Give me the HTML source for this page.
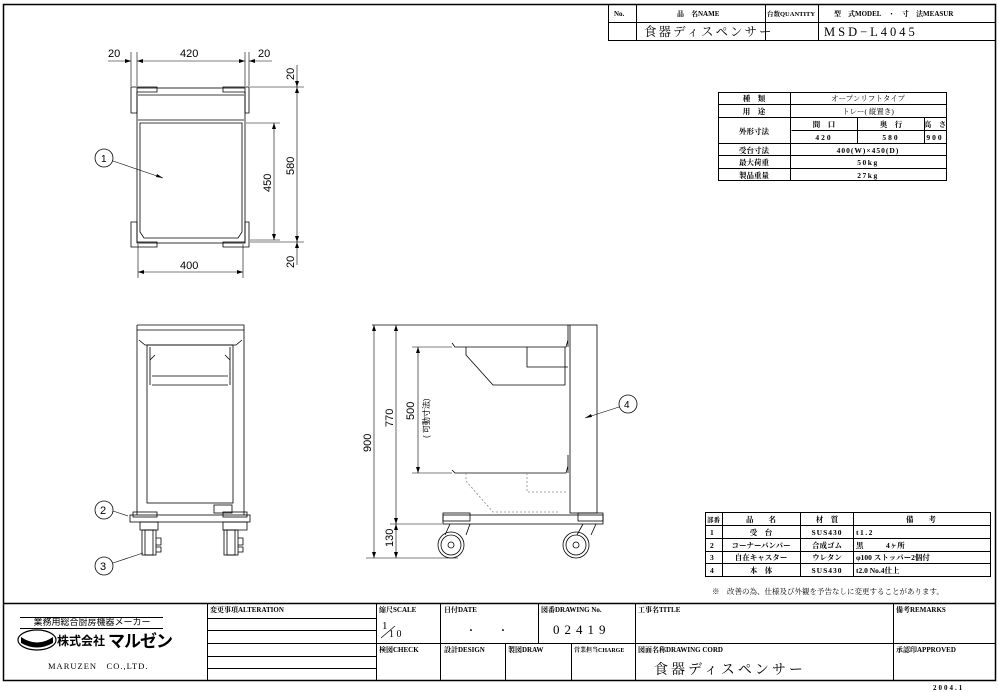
<!DOCTYPE html>
<html><head><meta charset="utf-8"><style>
html,body{margin:0;padding:0;background:#fff}
svg{display:block}
text{font-family:"Liberation Serif","Noto Serif CJK SC","Noto Sans CJK JP",serif;fill:#000}
.s text, text.s{font-family:"Liberation Sans","Noto Sans CJK JP",sans-serif}
</style></head><body>
<svg width="999" height="692" viewBox="0 0 999 692" xmlns="http://www.w3.org/2000/svg">
<g fill="none" stroke="#000" stroke-width="1">
<rect x="3.5" y="4.5" width="992" height="676" stroke-width="1.5"/>
<path d="M608.5 4.5V40.5H996 M608.5 22.5H996 M636.5 4.5V40.5 M765.5 4.5V40.5 M818.5 4.5V40.5"/>
<path d="M3.5 603.5H996" stroke-width="1.5"/>
<path d="M207.5 603.5V681 M376.5 603.5V681 M440.5 603.5V681 M538.5 603.5V643.5 M505.5 643.5V681 M571.5 643.5V681 M635.5 603.5V681 M893.5 603.5V681 M376.5 643.5H996"/>
<path d="M207.5 618.5H376.5 M207.5 630.5H376.5 M207.5 643.5H376.5 M207.5 656.5H376.5 M207.5 668.5H376.5"/>
<path d="M20 617.5H163 M20 628.5H163"/>
<rect x="718.5" y="92.5" width="228" height="88"/>
<path d="M718.5 104.5H946.5 M718.5 117.5H946.5 M791.5 130.5H946.5 M718.5 143.5H946.5 M718.5 155.5H946.5 M718.5 168.5H946.5 M790.5 92.5V180.5 M857.5 117.5V143.5 M924.5 117.5V143.5"/>
<rect x="705.5" y="512.5" width="285" height="64"/>
<path d="M705.5 525.5H990.5 M705.5 538.5H990.5 M705.5 551.5H990.5 M705.5 563.5H990.5 M722.5 512.5V576.5 M800.5 512.5V576.5 M853.5 512.5V576.5"/>
</g>

<!-- top view -->
<g fill="none" stroke="#000" stroke-width="0.8">
<path d="M131 87H157V92H137V113H131Z"/>
<path d="M249 87H223V92H245V113H249Z"/>
<path d="M131 247H157V242H137V222H131Z"/>
<path d="M249 247H223V242H245V222H249Z"/>
<rect x="137" y="88" width="108" height="155"/>
<path d="M138 95H244 M138 120H244"/>
<path d="M140 123H242V232L238 238H144L140 232Z"/>
<path d="M131 86V52 M137 86V52 M245 86V52 M249 86V52 M108 61H131 M137 61H245 M249 61H272" stroke-width="0.6"/>
<path d="M138 244V278 M243 244V278 M138 272H243" stroke-width="0.6"/>
<path d="M246 123H280 M250 240H280 M274 123V240 M250 87H304 M250 242H304 M297 65V87 M297 87V242 M297 242V265" stroke-width="0.6"/>
<circle cx="104" cy="158" r="9"/>
<path d="M113 161L163 178" stroke-width="0.6"/>
</g>
<g fill="#000">
<path d="M131 61l-6-2v4z M137 61l6-2v4z M245 61l-6-2v4z M249 61l6-2v4z M138 272l6-2v4z M243 272l-6-2v4z M274 123l-2 6h4z M274 240l-2-6h4z M297 87l-2-6h4z M297 87l-2 6h4z M297 242l-2-6h4z M297 242l-2 6h4z M163 178l-6-4-1 3z"/>
</g>
<g class="s" font-size="11">
<text x="108" y="57">20</text><text x="180" y="57">420</text><text x="258" y="57">20</text>
<text x="180" y="269">400</text>
<text x="101" y="162" font-size="10">1</text>
<text transform="translate(271 192) rotate(-90)">450</text>
<text transform="translate(294 175) rotate(-90)">580</text>
<text transform="translate(294 80) rotate(-90)">20</text>
<text transform="translate(294 268) rotate(-90)">20</text>
</g>

<!-- front view -->
<g fill="none" stroke="#000" stroke-width="0.8">
<path d="M137 325H244V515 M137 325V515"/>
<path d="M137 330H244 M139 340L145 345H236L242 340"/>
<rect x="147" y="345" width="86" height="158"/>
<path d="M150 347V385 M230 347V385 M152 376H228 M152 385H228 M150 360L155 355 M230 360L225 355"/>
<rect x="214" y="505" width="18" height="8"/>
<rect x="130" y="515" width="120" height="7"/>
<rect x="133" y="512" width="24" height="5"/>
<rect x="223" y="512" width="24" height="5"/>
<path d="M140 522H158V530H140Z M223 522H247V530H223Z"/>
<rect x="142" y="530" width="14" height="25"/><rect x="145" y="530" width="8" height="25"/>
<rect x="224" y="530" width="14" height="25"/><rect x="227" y="530" width="8" height="25"/>
<path d="M156 538H161V545H156 M238 538H243V545H238 M156 547H161V552H156 M238 547H243V552H238"/>
<circle cx="104" cy="510" r="9"/><circle cx="104" cy="566" r="9"/>
<path d="M113 511L128 516 M113 563L143 553" stroke-width="0.6"/>
</g>
<g class="s" font-size="11"><text x="100" y="514">2</text><text x="100" y="570">3</text></g>

<!-- side view -->
<g fill="none" stroke="#000" stroke-width="0.8">
<rect x="570" y="325" width="27" height="188"/>
<path d="M372 325H570" />
<path d="M452 343L455 347H566L568 340 M455 347H566 M466 347V355L493 385H565V347 M527 347V367H568 M568 325V347"/>
<path d="M452 470L455 473H566L568 466 M568 455V473" />
<path d="M466 473V481L493 512H560 M527 473V492H568" stroke="#888" stroke-dasharray="2 2"/>
<rect x="443" y="515" width="160" height="9"/>
<rect x="443" y="513" width="27" height="8"/><rect x="578" y="513" width="25" height="8"/>
<path d="M450 524L445 535 M470 524L466 535 M583 524L577 535 M596 524L591 535"/>
<circle cx="451" cy="545" r="13"/><circle cx="451" cy="545" r="10"/><circle cx="451" cy="545" r="3"/>
<circle cx="576" cy="545" r="13"/><circle cx="576" cy="545" r="10"/><circle cx="576" cy="545" r="3"/>
<path d="M374 325V558 M396 325V558 M366 558H458 M390 524H442 M418 347V473 M412 347H452 M412 473H452" stroke-width="0.6"/>
<circle cx="628" cy="404" r="9"/>
<path d="M619 407L585 418" stroke-width="0.6"/>
</g>
<g fill="#000">
<path d="M374 325l-2 6h4z M374 558l-2-6h4z M396 325l-2 6h4z M396 524l-2-6h4z M396 524l-2 6h4z M396 558l-2-6h4z M418 347l-2 6h4z M418 473l-2-6h4z M585 418l6-4 1 3z"/>
</g>
<g class="s" font-size="11">
<text x="624" y="408" font-size="10">4</text>
<text transform="translate(371 452) rotate(-90)">900</text>
<text transform="translate(393 427) rotate(-90)">770</text>
<text transform="translate(393 547) rotate(-90)">130</text>
<text transform="translate(414 420) rotate(-90)">500</text>
<text transform="translate(429 438) rotate(-90)" font-size="8">( 可動寸法)</text>
</g>

<g font-size="7" font-weight="bold">
<text x="614" y="16">No.</text>
<text x="677" y="16">品　名NAME</text>
<text x="767" y="16" font-size="6.5">台数QUANTITY</text>
<text x="834" y="16">型　式MODEL　・　寸　法MEASUR</text>
</g>
<text x="644" y="36" font-size="12.5" letter-spacing="2">食器ディスペンサー</text>
<text x="824" y="36" font-size="12.5" letter-spacing="3">MSD−L4045</text>

<g font-size="7.5" font-weight="bold" text-anchor="middle">
<text x="754" y="101">種　類</text><text x="868" y="101" font-weight="normal">オープンリフトタイプ</text>
<text x="754" y="114">用　途</text><text x="868" y="114" font-weight="normal">トレー( 縦置き)</text>
<text x="754" y="134">外形寸法</text>
<text x="824" y="127">間　口</text><text x="891" y="127">奥　行</text><text x="935" y="127">高　さ</text>
<text x="824" y="140" letter-spacing="2">420</text><text x="891" y="140" letter-spacing="2">580</text><text x="935" y="140" letter-spacing="2">900</text>
<text x="754" y="153">受台寸法</text><text x="868" y="153" letter-spacing="1">400(W)×450(D)</text>
<text x="754" y="165">最大荷重</text><text x="868" y="165" letter-spacing="1.5">50kg</text>
<text x="754" y="178">製品重量</text><text x="868" y="178" letter-spacing="1.5">27kg</text>
</g>

<g font-size="7.5" font-weight="bold">
<text x="707" y="522" font-size="6.5">部番</text>
<text x="761" y="522" text-anchor="middle">品　　名</text>
<text x="827" y="522" text-anchor="middle">材　質</text>
<text x="921" y="522" text-anchor="middle">備　　考</text>
<text x="710" y="535">1</text><text x="761" y="535" text-anchor="middle">受　台</text><text x="827" y="535" text-anchor="middle" letter-spacing="1">SUS430</text><text x="856" y="535" letter-spacing="1.5">t1.2</text>
<text x="710" y="548">2</text><text x="761" y="548" text-anchor="middle">コーナーバンパー</text><text x="827" y="548" text-anchor="middle">合成ゴム</text><text x="856" y="548">黒　　　4ヶ所</text>
<text x="710" y="560">3</text><text x="761" y="560" text-anchor="middle">自在キャスター</text><text x="827" y="560" text-anchor="middle">ウレタン</text><text x="856" y="560">φ100 ストッパー2個付</text>
<text x="710" y="573">4</text><text x="761" y="573" text-anchor="middle">本　体</text><text x="827" y="573" text-anchor="middle" letter-spacing="1">SUS430</text><text x="856" y="573">t2.0 No.4仕上</text>
<text x="712" y="594" font-weight="normal">※　改善の為、仕様及び外観を予告なしに変更することがあります。</text>
</g>

<g font-size="7" font-weight="bold">
<text x="210" y="612">変更事項ALTERATION</text>
<text x="379" y="612">縮尺SCALE</text>
<text x="444" y="612">日付DATE</text>
<text x="541" y="612">図番DRAWING No.</text>
<text x="638" y="612">工事名TITLE</text>
<text x="896" y="612">備考REMARKS</text>
<text x="379" y="652">検図CHECK</text>
<text x="444" y="652">設計DESIGN</text>
<text x="508" y="652">製図DRAW</text>
<text x="574" y="652" font-size="6">営業担当CHARGE</text>
<text x="638" y="652">図面名称DRAWING CORD</text>
<text x="896" y="652">承認印APPROVED</text>
</g>
<text x="382" y="629" font-size="11">1</text>
<path d="M381 638L395 626" stroke="#000" stroke-width="0.7"/>
<text x="389" y="637" font-size="10">1 0</text>
<text x="466" y="634" font-size="10">・</text><text x="498" y="634" font-size="10">・</text>
<text x="553" y="634" font-size="13" letter-spacing="5">02419</text>
<text x="654" y="674" font-size="14" letter-spacing="3">食器ディスペンサー</text>
<text x="933" y="690" font-size="7" font-weight="bold" letter-spacing="2">2004.1</text>

<text x="92" y="625" font-size="9" text-anchor="middle" class="s">業務用総合厨房機器メーカー</text>
<ellipse cx="37" cy="640" rx="19" ry="10" fill="none" stroke="#000" stroke-width="1.2"/>
<path d="M21 637Q37 648 53 637V643Q37 652 21 643Z" fill="#000"/>
<text x="57" y="645" font-size="12" class="s" font-weight="bold">株式会社</text>
<text x="108" y="647" font-size="17" class="s" font-weight="bold" letter-spacing="-1">マルゼン</text>
<text x="48" y="669" font-size="8.5" letter-spacing="1">MARUZEN　CO.,LTD.</text>
</svg>
</body></html>
